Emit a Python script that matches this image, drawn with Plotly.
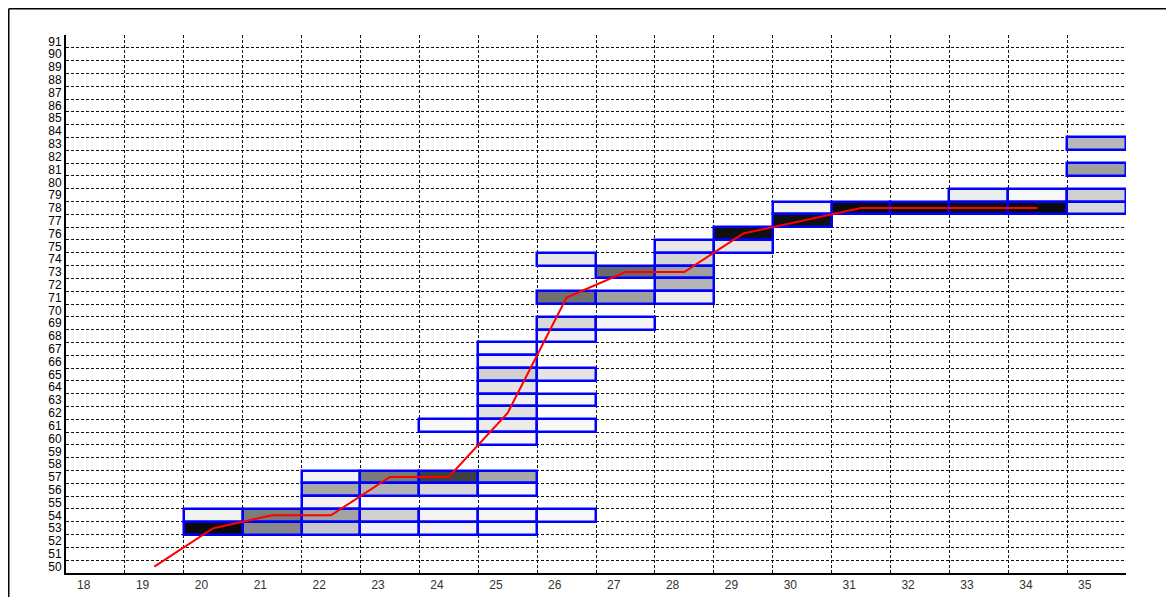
import plotly.graph_objects as go

# ---- data ----
x_categories = list(range(18, 36))
y_categories = list(range(50, 92))

# cells: column (x category), row (y category), gray level of the fill (0=black, 255=white)
cell_col = [20, 20,
            21, 21,
            22, 22, 22, 22, 22,
            23, 23, 23, 23,
            24, 24, 24, 24, 24,
            25, 25, 25, 25, 25, 25, 25, 25, 25, 25, 25, 25,
            26, 26, 26, 26, 26, 26, 26, 26,
            27, 27, 27,
            28, 28, 28, 28, 28,
            29, 29,
            30, 30,
            31,
            32,
            33, 33,
            34, 34,
            35, 35, 35, 35]
cell_row = [54, 53,
            54, 53,
            57, 56, 55, 54, 53,
            57, 56, 54, 53,
            61, 57, 56, 54, 53,
            67, 66, 65, 64, 63, 62, 61, 60, 57, 56, 54, 53,
            74, 71, 69, 68, 65, 63, 61, 54,
            73, 71, 69,
            75, 74, 73, 72, 71,
            76, 75,
            78, 77,
            78,
            78,
            79, 78,
            79, 78,
            83, 81, 79, 78]
cell_gray = [242, 10,
             124, 136,
             242, 168, 242, 164, 200,
             122, 180, 208, 242,
             248, 64, 216, 244, 244,
             250, 240, 208, 228, 240, 224, 236, 250, 168, 248, 246, 246,
             232, 112, 216, 240, 228, 248, 248, 248,
             106, 160, 244,
             232, 212, 160, 180, 236,
             16, 232,
             244, 16,
             10,
             10,
             236, 16,
             248, 10,
             184, 160, 208, 216]

# red line: value (row) per column
line_col = [19, 20, 21, 22, 23, 24, 25, 26, 27, 28, 29, 30, 31, 32, 33, 34]
line_val = [50, 53, 54, 54, 57, 57, 62, 71, 73, 73, 76, 77, 78, 78, 78, 78]

FONT = "Liberation Sans Narrow, Liberation Sans, sans-serif"

fig = go.Figure()

fig.add_trace(go.Bar(
    x=[c + 0.5 for c in cell_col],
    y=[1] * len(cell_col),
    base=cell_row,
    width=1,
    marker=dict(color=[f"rgb({g},{g},{g})" for g in cell_gray],
                line=dict(color="#0000ff", width=2.5)),
    hoverinfo="skip",
    showlegend=False,
))

fig.add_trace(go.Scatter(
    x=[c + 0.5 for c in line_col],
    y=[v + 0.5 for v in line_val],
    mode="lines",
    line=dict(color="#ff0000", width=2),
    hoverinfo="skip",
    showlegend=False,
))

fig.update_layout(
    width=1166, height=589,
    margin=dict(l=58, r=48, t=27, b=24),
    paper_bgcolor="white", plot_bgcolor="white",
    font=dict(family=FONT, size=12, color="black"),
    barmode="overlay",
    bargap=0,
    showlegend=False,
    xaxis=dict(
        range=[18, 36],
        automargin=False,
        tickmode="array",
        tickvals=[c + 0.3 for c in x_categories],
        ticktext=[str(c) for c in x_categories],
        ticks="", showgrid=False, zeroline=False,
        showline=True, linecolor="black", linewidth=2,
        tickfont=dict(family=FONT, size=12, color="#333"),
        minor=dict(tickmode="array", tickvals=list(range(19, 37)),
                   showgrid=True, gridcolor="#111", griddash="3px,2px", gridwidth=1),
        fixedrange=True,
    ),
    yaxis=dict(
        range=[50, 92],
        automargin=False,
        tickmode="array",
        tickvals=[v + 0.5 for v in y_categories],
        ticktext=[str(v) for v in y_categories],
        ticks="", showgrid=False, zeroline=False,
        showline=True, linecolor="black", linewidth=2,
        tickfont=dict(family=FONT, size=12, color="black"),
        minor=dict(tickmode="array", tickvals=list(range(51, 93)),
                   showgrid=True, gridcolor="#111", griddash="3px,2px", gridwidth=1),
        fixedrange=True,
    ),
    shapes=[
        dict(type="line", xref="paper", yref="paper", x0=-0.0540, x1=-0.0540, y0=-0.1, y1=1.0488,
             line=dict(color="black", width=1.5)),
        dict(type="line", xref="paper", yref="paper", x0=-0.0540, x1=1.1, y0=1.0488, y1=1.0488,
             line=dict(color="black", width=1.5)),
    ],
)

fig.write_html("out.html")
